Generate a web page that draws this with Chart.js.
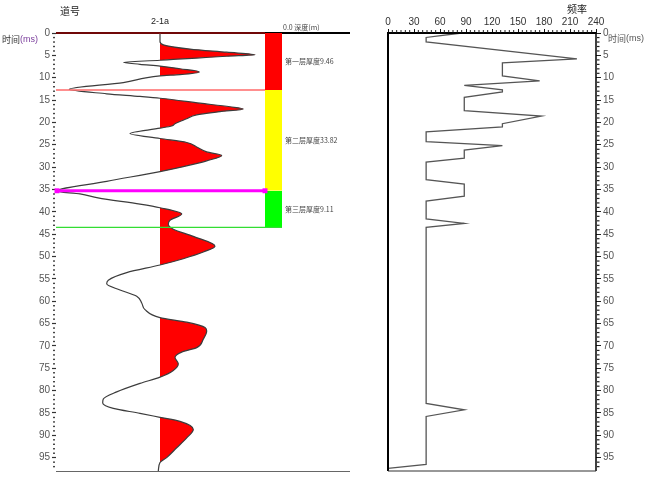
<!DOCTYPE html>
<html>
<head>
<meta charset="utf-8">
<script src="https://cdn.jsdelivr.net/npm/chart.js@4/dist/chart.umd.min.js"></script>
<style>
  html, body { margin: 0; padding: 0; background: #ffffff; }
  #wrap { position: relative; width: 647px; height: 479px; overflow: hidden; }
  canvas { position: absolute; top: 0; }
  #traceChart { left: 0; }
  #freqChart { left: 360px; }
</style>
</head>
<body>
<div id="wrap">
  <canvas id="traceChart" width="360" height="479"></canvas>
  <canvas id="freqChart" width="287" height="479"></canvas>
</div>
<script>
// ---- seismic trace 2-1a : time (ms) and normalised amplitude ----
const traceName = '2-1a';
const traceTime = [0, 1.9, 2.65, 3.6, 4.3, 4.86, 5.2, 5.6, 5.9, 6.1, 6.55, 7.0, 7.4, 8.0, 8.7, 9.3, 9.6,
  11.1, 12.6, 13.6, 14.2, 14.6, 15.7, 16.5, 17.0, 17.6, 18.3, 19.2, 20.3, 20.8, 21.3, 22.5, 23.6,
  24.5, 25.5, 26.6, 27.4, 28.6, 29.9, 31.0, 33.2, 35.4, 36.0, 36.9, 38.3, 39.1, 40.5, 41.9, 42.8,
  43.9, 45.5, 47.7, 49.0, 50.5, 51.9, 53.6, 55.3, 56.1, 57.5, 58.9, 60.4, 61.9, 63.7, 64.7, 65.9,
  66.7, 68.5, 70.4, 71.4, 72.6, 74.0, 75.5, 77.0, 78.4, 80.3, 81.9, 82.8, 84.0, 85.1, 86.0, 86.9,
  88.7, 90.6, 92.8, 95.0, 96.1, 98.0];
const traceAmp = [0, 0, 0.033, 0.30, 0.667, 0.95, 0.667, 0.367, 0.133, 0, -0.367, -0.20, 0, 0.20, 0.393, 0.20, 0,
  -0.367, -0.907, -0.533, -0.20, 0, 0.40, 0.70, 0.833, 0.60, 0.367, 0.267, 0.15, 0.117, 0, -0.30, 0,
  0.267, 0.367, 0.467, 0.617, 0.467, 0.233, 0, -0.533, -1.033, -0.80, -0.62, -0.20, 0, 0.217, 0.10, 0.083,
  0.133, 0.333, 0.55, 0.433, 0.233, 0, -0.333, -0.517, -0.533, -0.40, -0.233, -0.183, -0.15, 0, 0.267, 0.45,
  0.467, 0.433, 0.367, 0.217, 0.15, 0.183, 0.133, 0, -0.20, -0.433, -0.567, -0.573, -0.467, -0.20, 0, 0.20,
  0.333, 0.267, 0.167, 0.067, 0, -0.017];

// ---- layers picked on the trace (ms) ----
const layerTop = [0, 12.75, 35.3];
const layerBottom = [12.75, 35.3, 43.5];
const layerColors = ['#ff0000', '#ffff00', '#00ff00'];
const layerLabels = ['第一层厚度9.46', '第二层厚度33.82', '第三层厚度9.11'];
const layerLineColors = ['#ff6a6a', '#ff00ff', '#33dd33'];
const layerHeader = '0.0 深度(m)';

// ---- dominant frequency versus time ----
const freqTime = [0, 1.0, 2.0, 5.8, 6.7, 9.6, 10.7, 11.7, 12.7, 13.2, 14.4, 17.4, 18.6, 20.3, 21.0, 22.1,
  24.3, 25.2, 26.2, 28.0, 28.9, 32.8, 33.8, 36.5, 37.6, 41.6, 42.6, 43.5, 82.9, 84.3, 85.8, 96.5, 97.4];
const freqValue = [85, 44, 44, 218, 132, 132, 175, 88, 132, 132, 88, 88, 177, 132, 132, 44,
  44, 132, 88, 88, 44, 44, 88, 88, 44, 44, 88, 44, 44, 88, 44, 44, 0];

// ---- tick labels ----
const timeTicks = [0, 5, 10, 15, 20, 25, 30, 35, 40, 45, 50, 55, 60, 65, 70, 75, 80, 85, 90, 95];
const freqTicks = [0, 30, 60, 90, 120, 150, 180, 210, 240];

const T_MAX = 98;
const AMP_MIN = -1.04, AMP_MAX = 1.90;
const BAR_L = 1.05, BAR_R = 1.22;
const SANS = '"Liberation Sans", Arial, sans-serif';
const CJK = '"Noto Sans CJK SC", sans-serif';

// red fill only on the positive side of the trace baseline
function positiveFill(context) {
  const chart = context.chart;
  const xs = chart.scales && chart.scales.x;
  if (!chart.chartArea || !xs) return '#ff0000';
  const x0 = xs.getPixelForValue(0);
  const p = Math.min(Math.max(x0 / chart.width, 0), 1);
  const g = chart.ctx.createLinearGradient(0, 0, chart.width, 0);
  g.addColorStop(0, 'rgba(255,0,0,0)');
  g.addColorStop(p, 'rgba(255,0,0,0)');
  g.addColorStop(p, '#ff0000');
  g.addColorStop(1, '#ff0000');
  return g;
}

const traceData = traceTime.map((t, i) => ({ x: traceAmp[i], y: t }));

const datasets = [];
// boundary lines (drawn on top)
datasets.push({
  data: [{ x: AMP_MIN, y: 0 }, { x: BAR_L, y: 0 }],
  borderColor: '#e01010', borderWidth: 1, pointRadius: 0, fill: false, clip: false, order: 1
});
datasets.push({
  data: [{ x: AMP_MIN, y: layerBottom[0] }, { x: BAR_L, y: layerBottom[0] }],
  borderColor: layerLineColors[0], borderWidth: 1.5, pointRadius: 0, fill: false, clip: false, order: 1
});
datasets.push({
  data: [{ x: AMP_MIN + 0.01, y: layerBottom[1] }, { x: BAR_L, y: layerBottom[1] }],
  borderColor: layerLineColors[1], borderWidth: 3, fill: false, clip: false, order: 1,
  pointStyle: 'rect', pointRadius: 3.5, pointBackgroundColor: layerLineColors[1], pointBorderWidth: 0
});
datasets.push({
  data: [{ x: AMP_MIN, y: layerBottom[2] }, { x: BAR_R, y: layerBottom[2] }],
  borderColor: layerLineColors[2], borderWidth: 1.2, pointRadius: 0, fill: false, clip: false, order: 1
});
// wiggle trace with positive fill
datasets.push({
  data: traceData,
  borderColor: '#3c3c3c', borderWidth: 1.2, pointRadius: 0,
  fill: 'origin', backgroundColor: positiveFill,
  cubicInterpolationMode: 'monotone', clip: false, order: 3
});
// layer colour bars
layerTop.forEach((t0, i) => {
  datasets.push({
    data: [{ x: BAR_R, y: t0 }, { x: BAR_R, y: layerBottom[i] }],
    borderWidth: 0, borderColor: 'rgba(0,0,0,0)', pointRadius: 0,
    fill: { value: BAR_L }, backgroundColor: layerColors[i], clip: false, order: 5
  });
});

const traceDecor = {
  id: 'traceDecor',
  beforeDatasetsDraw(chart) {
    const { ctx, chartArea: a } = chart;
    ctx.save();
    ctx.strokeStyle = '#000';
    ctx.lineWidth = 2;
    ctx.beginPath();
    ctx.moveTo(a.left, a.top); ctx.lineTo(a.right, a.top);
    ctx.stroke();
    ctx.strokeStyle = '#666';
    ctx.lineWidth = 1;
    ctx.beginPath();
    ctx.moveTo(a.left, a.bottom + 0.5); ctx.lineTo(a.right, a.bottom + 0.5);
    ctx.stroke();
    ctx.restore();
  },
  afterDraw(chart) {
    const { ctx, chartArea: a, scales: { x, y } } = chart;
    ctx.save();
    // minor time ticks
    ctx.fillStyle = '#444';
    for (let t = 1; t < T_MAX; t++) {
      if (t % 5 === 0) continue;
      const py = y.getPixelForValue(t);
      ctx.fillRect(a.left - 3, py - 0.6, 2, 1.4);
    }
    ctx.textBaseline = 'middle';
    // titles
    ctx.fillStyle = '#222';
    ctx.font = '10px ' + CJK;
    ctx.textAlign = 'center';
    ctx.fillText('道号', 70, 11);
    ctx.font = '9px ' + SANS;
    ctx.fillText(traceName, x.getPixelForValue(0), 22);
    ctx.textAlign = 'left';
    ctx.font = '9px ' + CJK;
    ctx.fillStyle = '#333';
    ctx.fillText('时间', 2, 40);
    const w = ctx.measureText('时间').width;
    ctx.font = '9px ' + SANS;
    ctx.fillStyle = '#7a3c9c';
    ctx.fillText('(ms)', 2 + w, 40);
    // layer header and labels
    const lx = x.getPixelForValue(BAR_R) + 3;
    ctx.fillStyle = '#444';
    ctx.font = '7px ' + CJK;
    ctx.fillText(layerHeader, x.getPixelForValue(BAR_L) + 18, 27);
    layerLabels.forEach((txt, i) => {
      ctx.fillText(txt, lx, y.getPixelForValue((layerTop[i] + layerBottom[i]) / 2));
    });
    ctx.restore();
  }
};

new Chart(document.getElementById('traceChart'), {
  type: 'line',
  data: { datasets },
  options: {
    indexAxis: 'y',
    responsive: false,
    animation: false,
    devicePixelRatio: 1,
    events: [],
    layout: { padding: { top: 33, right: 10, bottom: 2, left: 0 } },
    plugins: { legend: { display: false }, tooltip: { enabled: false } },
    scales: {
      x: { type: 'linear', min: AMP_MIN, max: AMP_MAX, display: false },
      y: {
        type: 'linear', position: 'left', reverse: true, min: 0, max: T_MAX,
        afterBuildTicks: s => { s.ticks = timeTicks.map(v => ({ value: v })); },
        afterFit: s => { s.width = 56; },
        ticks: { font: { size: 10, family: SANS }, color: '#555', padding: 2, autoSkip: false },
        grid: { drawOnChartArea: false, tickLength: 4, tickColor: '#333', tickWidth: 1.2 },
        border: { display: false }
      }
    }
  },
  plugins: [traceDecor]
});

// ---- frequency panel ----
const freqDecor = {
  id: 'freqDecor',
  afterDraw(chart) {
    const { ctx, chartArea: a, scales: { x, y } } = chart;
    ctx.save();
    ctx.strokeStyle = '#000';
    ctx.lineWidth = 2;
    ctx.beginPath();
    ctx.moveTo(a.left, a.bottom); ctx.lineTo(a.left, a.top); ctx.lineTo(a.right, a.top);
    ctx.stroke();
    ctx.lineWidth = 1.5;
    ctx.beginPath();
    ctx.moveTo(a.right, a.top); ctx.lineTo(a.right, a.bottom);
    ctx.stroke();
    ctx.strokeStyle = '#333';
    ctx.lineWidth = 1.2;
    ctx.beginPath();
    ctx.moveTo(a.left, a.bottom); ctx.lineTo(a.right, a.bottom);
    ctx.stroke();
    // minor ticks
    ctx.fillStyle = '#222';
    for (let f = 5; f < 240; f += 5) {
      if (f % 30 === 0) continue;
      const px = x.getPixelForValue(f);
      ctx.fillRect(px - 0.5, a.top - 3, 1, 2.5);
    }
    for (let t = 1; t < T_MAX; t++) {
      if (t % 5 === 0) continue;
      const py = y.getPixelForValue(t);
      ctx.fillRect(a.right + 1, py - 0.5, 2.5, 1.2);
    }
    ctx.fillStyle = '#222';
    ctx.textBaseline = 'middle';
    ctx.textAlign = 'center';
    ctx.font = '10px ' + CJK;
    ctx.fillText('频率', a.right - 19, 9);
    ctx.textAlign = 'left';
    ctx.font = '9px ' + CJK;
    ctx.fillStyle = '#555';
    ctx.fillText('时间', a.right + 12, 39);
    const w = ctx.measureText('时间').width;
    ctx.font = '9px ' + SANS;
    ctx.fillText('(ms)', a.right + 12 + w, 39);
    ctx.restore();
  }
};

new Chart(document.getElementById('freqChart'), {
  type: 'line',
  data: {
    datasets: [{
      data: freqTime.map((t, i) => ({ x: freqValue[i], y: t })),
      borderColor: '#555555', borderWidth: 1.3, pointRadius: 0, fill: false, tension: 0, clip: false
    }]
  },
  options: {
    indexAxis: 'y',
    responsive: false,
    animation: false,
    devicePixelRatio: 1,
    events: [],
    layout: { padding: { top: 0, right: 0, bottom: 2, left: 28 } },
    plugins: { legend: { display: false }, tooltip: { enabled: false } },
    scales: {
      x: {
        type: 'linear', position: 'top', min: 0, max: 240,
        afterBuildTicks: s => { s.ticks = freqTicks.map(v => ({ value: v })); },
        afterFit: s => { s.height = 33; },
        ticks: { font: { size: 10, family: SANS }, color: '#333', padding: 1, autoSkip: false, maxRotation: 0 },
        grid: { drawOnChartArea: false, tickLength: 4, tickColor: '#111' },
        border: { display: false }
      },
      y: {
        type: 'linear', position: 'right', reverse: true, min: 0, max: T_MAX,
        afterBuildTicks: s => { s.ticks = timeTicks.map(v => ({ value: v })); },
        afterFit: s => { s.width = 51; },
        ticks: { font: { size: 10, family: SANS }, color: '#555', padding: 2, autoSkip: false },
        grid: { drawOnChartArea: false, tickLength: 5, tickColor: '#222' },
        border: { display: false }
      }
    }
  },
  plugins: [freqDecor]
});
</script>
</body>
</html>
